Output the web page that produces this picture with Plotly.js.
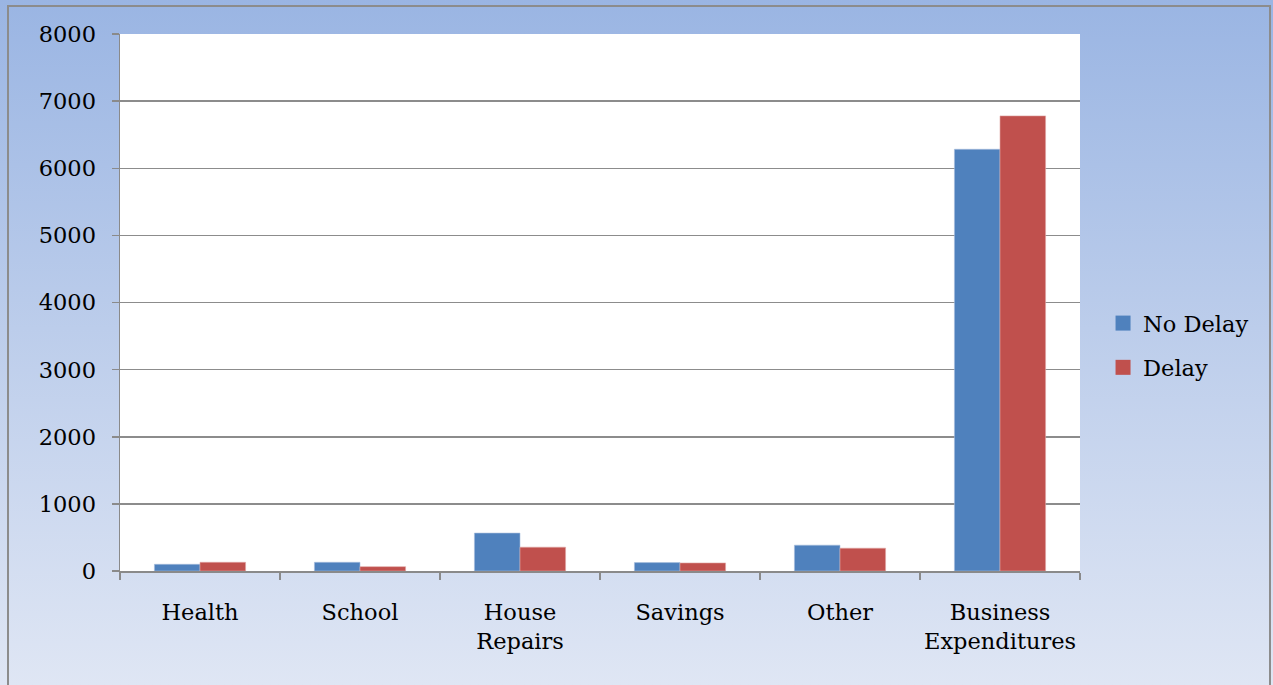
<!DOCTYPE html>
<html>
<head>
<meta charset="utf-8">
<script src="https://cdn.plot.ly/plotly-3.0.1.min.js"></script>
<style>
  html, body { margin: 0; padding: 0; width: 1273px; height: 685px; overflow: hidden; }
  #bg { position: absolute; left: 0; top: 0; width: 1273px; height: 685px;
        background: linear-gradient(to bottom, #9ab5e3 0%, #bccdeb 48%, #dfe6f4 100%); }
  #frame { position: absolute; left: 7px; top: 5px; width: 1264px; height: 700px;
           border: 2px solid #8c8c8c; box-sizing: border-box; }
  #chart { position: absolute; left: 0; top: 0; width: 1273px; height: 685px; }
</style>
</head>
<body>
<div id="bg"></div>
<div id="frame"></div>
<div id="chart"></div>
<script>
const categories = ["Health", "School", "House<br>Repairs", "Savings", "Other", "Business<br>Expenditures"];
const seriesNames = ["No Delay", "Delay"];
const noDelay = [100, 130, 565, 125, 385, 6283];
const delay = [130, 65, 355, 120, 340, 6780];
const yTicks = [0, 1000, 2000, 3000, 4000, 5000, 6000, 7000, 8000];
const colors = ["#4f81bd", "#c0504d"];
const edgeColors = ["#a9c0de", "#e0a8a6"];

const font = { family: "DejaVu Serif, serif", size: 22.5, color: "#000" };

const values = [noDelay, delay];
const traces = [];
values.forEach((v, i) => {
  traces.push({ type: "bar", name: seriesNames[i], x: categories, y: v, showlegend: false,
    marker: { color: colors[i], line: { color: edgeColors[i], width: 0.6 } } });
});
// legend entries (square swatches)
values.forEach((v, i) => {
  traces.push({ type: "scatter", mode: "markers", name: seriesNames[i], x: [null], y: [null],
    legendgroup: "g" + i, showlegend: true,
    marker: { symbol: "square", size: 15, color: colors[i] } });
});

const layout = {
  width: 1273, height: 685,
  margin: { l: 120, r: 193, t: 34, b: 114, pad: 0 },
  paper_bgcolor: "rgba(0,0,0,0)",
  plot_bgcolor: "#ffffff",
  font: font,
  barmode: "group",
  bargap: 0.43,
  bargroupgap: 0,
  showlegend: true,
  legend: { x: 1.024, xanchor: "left", y: 0.42, yanchor: "middle",
            font: { family: "DejaVu Serif, serif", size: 22.5 },
            traceorder: "grouped", tracegroupgap: 12, bgcolor: "rgba(0,0,0,0)" },
  xaxis: {
    type: "category", tickson: "boundaries", ticks: "outside", ticklen: 7,
    tickcolor: "#8a8a8a", tickwidth: 1.5, showline: true, linecolor: "#8a8a8a", linewidth: 1.5,
    showgrid: false, ticklabelstandoff: 20, tickangle: 0, tickfont: font
  },
  yaxis: {
    range: [0, 8000], tickvals: yTicks, ticktext: yTicks.map(String),
    ticks: "outside", ticklen: 7, tickcolor: "#8a8a8a", tickwidth: 1.5,
    showline: true, linecolor: "#8a8a8a", linewidth: 1.5,
    showgrid: true, gridcolor: "#8c8c8c", gridwidth: 1.5, zeroline: false,
    ticklabelstandoff: 11, tickfont: font
  }
};

Plotly.newPlot("chart", traces, layout, { displayModeBar: false, staticPlot: true });
</script>
</body>
</html>
